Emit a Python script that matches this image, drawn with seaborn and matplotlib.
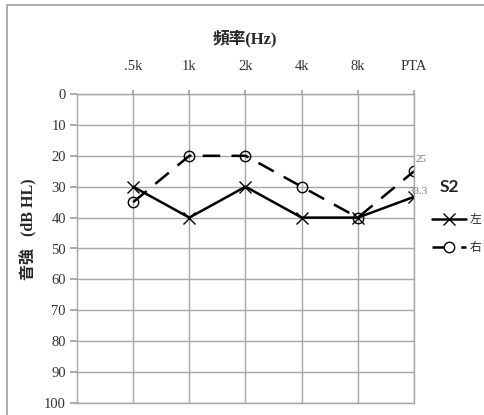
import numpy as np
import pandas as pd
import seaborn as sns
import matplotlib.pyplot as plt
from matplotlib.lines import Line2D
from matplotlib.patches import Rectangle

sns.set_theme(style="white")
plt.rcParams['font.family'] = ['Liberation Serif', 'Noto Sans CJK TC', 'DejaVu Sans']

freqs = ['.5k', '1k', '2k', '4k', '8k', 'PTA']
left_ear = [30, 40, 30, 40, 40, 33.3]
right_ear = [35, 20, 20, 30, 40, 25]
yticks = list(range(0, 101, 10))

pos = np.arange(1, len(freqs) + 1)
df = pd.DataFrame({'pos': np.concatenate([pos, pos]),
                   'db': left_ear + right_ear,
                   'ear': ['左'] * 6 + ['右'] * 6})

fig = plt.figure(figsize=(4.85, 4.15), dpi=100)
ax = fig.add_axes([77/485, 1 - 403/415, (414 - 77)/485, (403 - 94)/415])

sns.lineplot(data=df[df.ear == '左'], x='pos', y='db', ax=ax, color='black', lw=1.8,
             marker='x', markersize=9, markeredgewidth=1.0, markeredgecolor='black')
sns.lineplot(data=df[df.ear == '右'], x='pos', y='db', ax=ax, color='black', lw=1.8,
             marker='o', markersize=7.5, markerfacecolor='none', markeredgewidth=1.0,
             markeredgecolor='black', dashes=False)
ax.lines[-1].set_dashes([7, 4.5])

ax.set_xlim(0, 6)
ax.set_ylim(100, 0)
ax.set_xticks(pos)
ax.set_xticklabels(freqs)
ax.set_yticks(yticks)
ax.xaxis.tick_top()
ax.tick_params(axis='x', top=True, length=3, color='#a0a0a0', labelsize=10.5, labelcolor='#333333', pad=12)
ax.tick_params(axis='y', left=True, length=5, color='#a0a0a0', labelsize=10.5, labelcolor='#333333', pad=3)
ax.set_xlabel('')
ax.set_ylabel('音強   (dB HL)', fontsize=11.5, fontweight='bold')
ax.yaxis.set_label_coords(-(77 - 37) / (414 - 77), (403 - 229) / (403 - 94))
ax.grid(True, color='#a6a6a6', lw=1.0)
for s in ax.spines.values():
    s.set_color('#a6a6a6')
    s.set_linewidth(1.0)

ax.annotate('25', (6, right_ear[-1]), xytext=(1, 7), textcoords='offset points',
            fontsize=8, color='#777777')
ax.annotate('33.3', (6, left_ear[-1]), xytext=(-4, 2), textcoords='offset points',
            fontsize=8, color='#777777')

fig.text(245/485, 1 - 38/415, '頻率(Hz)', ha='center', va='center', fontsize=12,
         fontweight='bold')
fig.text(440/485, 1 - 187/415, 'S2', ha='left', va='center', fontsize=12.5,
         fontweight='bold', family=['Lato'])

handles = [Line2D([], [], color='black', lw=1.8, marker='x', markersize=9, markeredgewidth=1.0),
           Line2D([], [], color='black', lw=1.8, marker='o', markersize=7.5, markerfacecolor='white',
                  markeredgewidth=1.0, dashes=[7, 4.5])]
leg = fig.legend(handles, ['左', '右'], loc='center left', bbox_to_anchor=(421/485, 1 - 234/415),
                 frameon=False, handlelength=2.9, handletextpad=0.3, labelspacing=1.3,
                 prop={'size': 8.5, 'style': 'italic'})

fig.add_artist(Rectangle((7/485, -0.02), 1.0, 1 - 5/415 + 0.02, transform=fig.transFigure,
                         fill=False, edgecolor='#a0a0a0', lw=1.2))

fig.savefig('out.png', dpi=100)
